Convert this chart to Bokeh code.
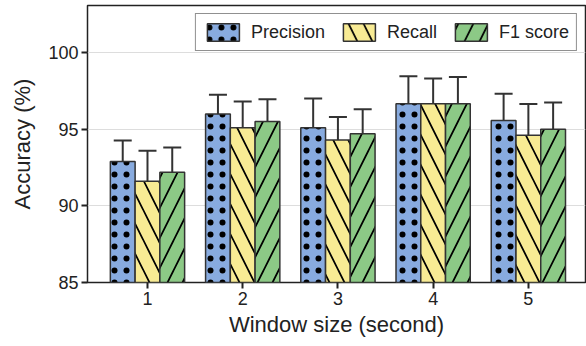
from bokeh.plotting import figure
from bokeh.models import ColumnDataSource, Whisker, TeeHead, FixedTicker, Legend, LegendItem, Range1d
from bokeh.transform import dodge
from bokeh.embed import file_html
from bokeh.resources import INLINE

window = [1, 2, 3, 4, 5]
precision = [92.9, 96.0, 95.1, 96.66, 95.57]
precision_err = [1.37, 1.25, 1.9, 1.8, 1.75]
recall = [91.6, 95.1, 94.3, 96.66, 94.6]
recall_err = [2.0, 1.7, 1.5, 1.65, 2.05]
f1 = [92.2, 95.5, 94.7, 96.66, 95.0]
f1_err = [1.6, 1.45, 1.6, 1.75, 1.75]
series_names = ["Precision", "Recall", "F1 score"]

src = ColumnDataSource(dict(
    x=window,
    p=precision, p_lo=[v - e for v, e in zip(precision, precision_err)], p_hi=[v + e for v, e in zip(precision, precision_err)],
    r=recall, r_lo=[v - e for v, e in zip(recall, recall_err)], r_hi=[v + e for v, e in zip(recall, recall_err)],
    f=f1, f_lo=[v - e for v, e in zip(f1, f1_err)], f_hi=[v + e for v, e in zip(f1, f1_err)],
))

FONT = "Liberation Sans"
p = figure(width=586, height=346, output_backend="svg", toolbar_location=None,
           x_range=Range1d(0.37, 5.6), y_range=Range1d(85, 103.07),
           min_border_left=87, min_border_right=1, min_border_top=5, min_border_bottom=64)

p.outline_line_color = "#222222"
p.outline_line_width = 1.5
p.xgrid.grid_line_color = None
p.ygrid.grid_line_color = "#dddddd"
p.ygrid.grid_line_width = 1

w = 0.26
specs = [("p", -w, "#88abdf", "dot", 12, 3.5), ("r", 0.0, "#f8eb94", "left_diagonal_line", 30, 1.7), ("f", w, "#8cc986", "right_diagonal_line", 30, 1.7)]
renderers = []
for (key, off, color, hatch, scale, weight) in specs:
    r = p.vbar(x=dodge("x", off), top=key, bottom=85, width=w, source=src,
               fill_color=color, line_color="#333333", line_width=1.5,
               hatch_pattern=hatch, hatch_color="black", hatch_weight=weight,
               hatch_scale=scale)
    renderers.append(r)
    wh = Whisker(base=dodge("x", off), upper=key + "_hi", lower=key + "_lo", source=src,
                 line_color="#333333", line_width=2,
                 upper_head=TeeHead(size=18, line_color="#333333", line_width=2),
                 lower_head=TeeHead(size=18, line_color="#333333", line_width=2))
    p.add_layout(wh)

legend = Legend(items=[LegendItem(label=n, renderers=[r]) for n, r in zip(series_names, renderers)],
                location="top_right", orientation="horizontal",
                label_text_font=FONT, label_text_font_size="18px", label_text_color="#222222",
                glyph_width=40, glyph_height=22, spacing=14, padding=7, margin=8, label_standoff=8,
                border_line_color="#222222", border_line_width=1.5, background_fill_alpha=1)
p.add_layout(legend)

p.xaxis.ticker = FixedTicker(ticks=window)
p.yaxis.ticker = FixedTicker(ticks=[85, 90, 95, 100])
p.xaxis.axis_label = "Window size (second)"
p.yaxis.axis_label = "Accuracy (%)"
for ax in (p.xaxis, p.yaxis):
    ax.axis_label_text_font = FONT
    ax.axis_label_text_font_size = "22px"
    ax.axis_label_text_font_style = "normal"
    ax.axis_label_text_color = "#222222"
    ax.major_label_text_font = FONT
    ax.major_label_text_font_size = "18px"
    ax.major_label_text_color = "#222222"
    ax.axis_line_color = None
    ax.minor_tick_line_color = None
    ax.major_tick_line_color = "#222222"
    ax.major_tick_line_width = 2
    ax.major_tick_in = 0
    ax.major_tick_out = 6
    ax.major_label_standoff = 3
p.xaxis.axis_label_standoff = 4
p.yaxis.axis_label_standoff = 10

open("out.html", "w").write(file_html(p, INLINE))
